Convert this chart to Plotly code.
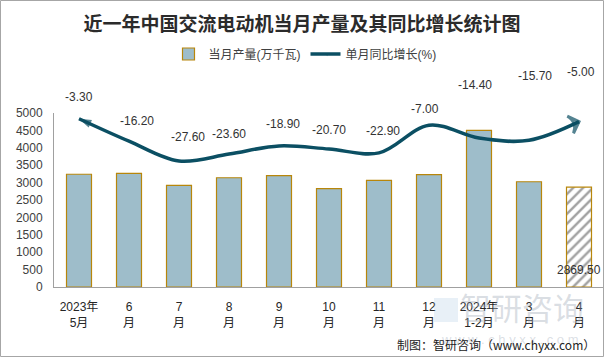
import plotly.graph_objects as go

categories = ["2023年<br>5月", "6<br>月", "7<br>月", "8<br>月", "9<br>月", "10<br>月",
              "11<br>月", "12<br>月", "2024年<br>1-2月", "3<br>月", "4<br>月"]
output_values = [3240, 3265, 2920, 3140, 3200, 2825, 3065, 3230, 4500, 3025, 2869.50]
growth_values = [-3.30, -16.20, -27.60, -23.60, -18.90, -20.70, -22.90, -7.00, -14.40, -15.70, -5.00]
y_ticks = [0, 500, 1000, 1500, 2000, 2500, 3000, 3500, 4000, 4500, 5000]

# label offsets (pixels) for the growth labels
label_dy = [22, 20, 24, 20, 22, 19, 22, 16, 53, 64, 50]
label_dx = [0, 8, 9, 0, 4, 0, 4, -4, -4, 6, 2]

bar_color = "#9EBDCA"
bar_edge = "#B8860B"
line_color = "#0B4F63"

n = len(categories)
patterns = [""] * (n - 1) + ["/"]

fig = go.Figure()
fig.add_trace(go.Bar(
    x=categories, y=output_values, name="当月产量(万千瓦)",
    marker=dict(color=[bar_color] * (n - 1) + ["white"],
                line=dict(color=bar_edge, width=1.2),
                pattern=dict(shape=patterns, fgcolor=bar_color, bgcolor="white",
                             size=7, solidity=0.35)),
    hoverinfo="skip",
))

symbols = ["arrow"] + ["circle"] * (n - 2) + ["arrow-wide-open"]
sizes = [13] + [0] * (n - 2) + [13]
angles = [-66] + [0] * (n - 2) + [70]
mlw = [0] + [0] * (n - 2) + [3]
fig.add_trace(go.Scatter(
    x=categories, y=growth_values, name="单月同比增长(%)", yaxis="y2",
    mode="lines+markers",
    line=dict(color=line_color, width=3.5, shape="spline", smoothing=1.0),
    marker=dict(symbol=symbols, size=sizes, angle=angles, color=line_color,
                line=dict(color=line_color, width=mlw)),
    hoverinfo="skip",
))

annotations = []
for i, (c, v) in enumerate(zip(categories, growth_values)):
    annotations.append(dict(x=c, y=v, xref="x", yref="y2", text=f"{v:.2f}",
                            showarrow=False, yshift=label_dy[i], xshift=label_dx[i],
                            font=dict(size=12, color="#333333")))
annotations.append(dict(x=categories[-1], y=0, xref="x", yref="y",
                        text=f"{output_values[-1]:.2f}", showarrow=False,
                        yanchor="middle", yshift=17, font=dict(size=12, color="#333333")))

W, H = 604, 357
L, R, T, B = 54, 0, 113, 70
pw, ph = W - L - R, H - T - B

# watermark
annotations.append(dict(x=(522 - L) / pw, y=(H - B - 309) / ph, xref="paper", yref="paper",
                        text="智研咨询", showarrow=False, xanchor="center", yanchor="middle",
                        font=dict(size=31, color="rgba(150,160,175,0.35)")))
annotations.append(dict(x=(510 - L) / pw, y=(H - B - 339) / ph, xref="paper", yref="paper",
                        text="w w w . c h y x x . c o m", showarrow=False,
                        xanchor="center", yanchor="middle",
                        font=dict(size=13, color="rgba(150,160,175,0.35)")))
# source
annotations.append(dict(x=(597 - L) / pw, y=(H - B - 344) / ph, xref="paper", yref="paper",
                        text="制图：智研咨询（www.chyxx.com）", showarrow=False,
                        xanchor="right", yanchor="middle",
                        font=dict(size=12, color="#222222", family="Noto Sans CJK SC")))

shapes = [dict(type="rect", xref="paper", yref="paper",
               x0=(0.5 - L) / pw, x1=(603.5 - L) / pw,
               y0=-(B - 0.5) / ph, y1=(H - B - 0.5) / ph,
               line=dict(color="#A6A6A6", width=1)),
          # faint watermark logo block
          dict(type="rect", xref="paper", yref="paper",
               x0=(434 - L) / pw, x1=(458 - L) / pw,
               y0=(H - B - 322) / ph, y1=(H - B - 298) / ph,
               line=dict(width=0), fillcolor="rgba(150,185,220,0.22)")]

fig.update_layout(
    width=W, height=H,
    margin=dict(l=L, r=R, t=T, b=B, autoexpand=False),
    paper_bgcolor="white", plot_bgcolor="white",
    font=dict(family="Liberation Sans, Noto Sans CJK SC", size=12, color="#404040"),
    title=dict(text="<b>近一年中国交流电动机当月产量及其同比增长统计图</b>",
               x=302 / W, xanchor="center", y=1 - 24 / H, yanchor="middle", yref="container",
               font=dict(size=19, color="#2b2b2b", family="Noto Sans CJK SC")),
    bargap=0.5,
    showlegend=True,
    legend=dict(orientation="h", xref="container", yref="container",
                x=305 / W, xanchor="center", y=1 - 54 / H, yanchor="middle",
                font=dict(size=12, color="#404040"), itemwidth=30),
    xaxis=dict(showline=True, linecolor="#A0A0A0", linewidth=1, ticks="",
               showgrid=False, tickfont=dict(size=12, color="#262626"),
               range=[-0.5, n - 0.5], ticklabelstandoff=9, automargin=False),
    yaxis=dict(range=[0, 5000], tickvals=y_ticks, showline=True, linecolor="#A0A0A0",
               linewidth=1, ticks="", showgrid=False, zeroline=False,
               tickfont=dict(size=12, color="#404040"), ticklabelstandoff=8,
               automargin=False),
    yaxis2=dict(range=[-100, 0], overlaying="y", side="right", visible=False),
    annotations=annotations,
    shapes=shapes,
)

fig.write_html("out.html", config={"displayModeBar": False},
               post_script="document.body.style.margin='0';")
